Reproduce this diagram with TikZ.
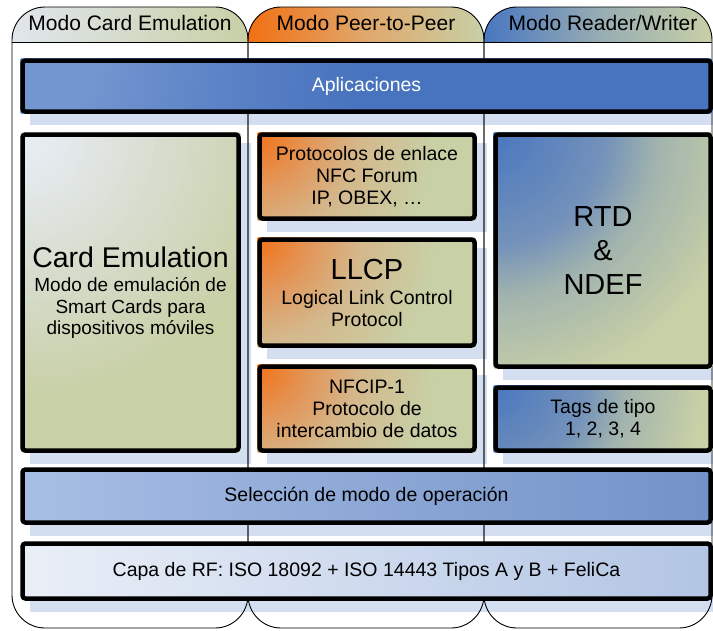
\documentclass[tikz,border=0pt]{standalone}
\usepackage{fontspec}
\setmainfont{Liberation Sans}

% palette
\definecolor{olive}{RGB}{200,208,166}
\definecolor{orangeA}{RGB}{242,112,20}
\definecolor{orangeB}{RGB}{226,152,92}
\definecolor{tanmid}{RGB}{212,184,140}
\definecolor{blueA}{RGB}{72,118,192}
\definecolor{blueB}{RGB}{116,146,186}
\definecolor{greymid}{RGB}{162,180,174}
\definecolor{paleA}{RGB}{234,238,246}
\definecolor{paleB}{RGB}{227,232,234}
\definecolor{palemid}{RGB}{216,222,208}
\definecolor{aplA}{RGB}{116,150,208}
\definecolor{aplB}{RGB}{72,115,190}
\colorlet{aplM}{aplA!45!aplB}
\definecolor{selA}{RGB}{168,190,228}
\definecolor{selB}{RGB}{114,146,200}
\definecolor{capaA}{RGB}{234,239,247}
\definecolor{capaB}{RGB}{178,197,228}
\definecolor{tabpaleA}{RGB}{224,230,236}
\definecolor{tabmidO}{RGB}{224,168,108}
\definecolor{tabmidB}{RGB}{150,172,180}
\definecolor{shadowblue}{RGB}{211,222,240}

% horizontal fades for the lane tabs
\pgfdeclarehorizontalshading{tabpale}{100bp}{color(0bp)=(tabpaleA); color(25bp)=(tabpaleA); color(75bp)=(olive); color(100bp)=(olive)}
\pgfdeclarehorizontalshading{taborange}{100bp}{color(0bp)=(orangeA); color(25bp)=(orangeA); color(50bp)=(tabmidO); color(75bp)=(olive); color(100bp)=(olive)}
\pgfdeclarehorizontalshading{tabblue}{100bp}{color(0bp)=(blueA); color(25bp)=(blueA); color(50bp)=(tabmidB); color(75bp)=(olive); color(100bp)=(olive)}

% one band of a stepped glow: centre, inner colour, outer colour, inner radius, outer radius
\newcommand\glowband[5]{%
  \foreach \k in {24,23,...,1}{%
    \pgfmathsetmacro\rr{#4+(#5-#4)*\k/24}%
    \pgfmathtruncatemacro\pp{100*\k/24}%
    \fill[#3!\pp!#2] #1 circle[radius=\rr pt];}}
% glow from the upper left corner of a box:
% upper left corner, lower right corner, four colours, three stop radii
\newcommand\boxglow[9]{%
  \begin{scope}
    \clip[rounded corners=3pt] #1 rectangle #2;
    \fill[#6] #1 rectangle #2;
    \glowband{#1}{#5}{#6}{#8}{#9}
    \glowband{#1}{#4}{#5}{#7}{#8}
    \glowband{#1}{#3}{#4}{0}{#7}
  \end{scope}}

\pgfdeclarelayer{lanebg}
\pgfdeclarelayer{shadowlayer}
\pgfdeclarelayer{laneline}
\pgfdeclarelayer{boxfill}
\pgfsetlayers{lanebg,shadowlayer,laneline,boxfill,main}

\begin{document}
\begin{tikzpicture}[x=1pt,y=-1pt,
  box/.style={draw=black, line width=4.5pt, rounded corners=3pt, inner sep=0pt, align=center,
              font=\fontsize{19.5}{22}\selectfont},
  lane/.style={draw=black, line width=0.9pt, rounded corners=33pt},
  laneline/.style={draw=black, line width=0.9pt},
  hdr/.style={font=\fontsize{21}{24}\selectfont, inner sep=0pt},
  shadowfill/.style={fill=shadowblue}
]
\useasboundingbox (0,0) rectangle (713,630);

% ---------- boxes ----------
\node[box, text=white, minimum width=688pt, minimum height=51pt] (apl) at (366.5,86) {Aplicaciones};

\node[box, minimum width=216pt, minimum height=316pt,
      font=\fontsize{19}{21.5}\selectfont] (ce) at (130.5,292.5)
  {{\fontsize{28.5}{30}\selectfont Card Emulation}\\[3pt]
   Modo de emulación de\\ Smart Cards para\\ dispositivos móviles};

\node[box, minimum width=215pt, minimum height=84pt] (prot) at (367,176.5)
  {Protocolos de enlace\\ NFC Forum\\ IP, OBEX, \dots};
\node[box, minimum width=215pt, minimum height=106pt] (llcp) at (367,292.5)
  {{\fontsize{29}{30}\selectfont LLCP}\\[3pt] Logical Link Control\\ Protocol};
\node[box, minimum width=215pt, minimum height=84pt] (nfcip) at (367,408.5)
  {NFCIP-1\\ Protocolo de\\ intercambio de datos};

\node[box, minimum width=215pt, minimum height=232pt,
      font=\fontsize{29}{34}\selectfont] (rtd) at (603,250.5) {RTD\\ \&\\ NDEF};
\node[box, minimum width=215pt, minimum height=63pt] (tags) at (603,419)
  {Tags de tipo\\ 1, 2, 3, 4};

\node[box, left color=selA, right color=selB, minimum width=688pt, minimum height=53pt] (sel) at (366.5,496)
  {Selección de modo de operación};
\node[box, left color=capaA, right color=capaB, minimum width=688pt, minimum height=55pt] (capa) at (366.5,571)
  {Capa de RF: ISO 18092 + ISO 14443 Tipos A y B + FeliCa};

% ---------- lane headers ----------
\node[hdr] (h1) at (130,23) {Modo Card Emulation};
\node[hdr] (h2) at (366,23) {Modo Peer-to-Peer};
\node[hdr] (h3) at (603,23) {Modo Reader/Writer};

% ---------- box fills ----------
\begin{pgfonlayer}{boxfill}
  \boxglow{(20.25,58.25)}{(712.75,113.75)}{aplA}{aplA}{aplM}{aplB}{75}{204}{340}
  \boxglow{(20.25,132.25)}{(240.75,452.75)}{paleA}{paleB}{palemid}{olive}{54}{135}{270}
  \boxglow{(257.25,132.25)}{(476.75,220.75)}{orangeA}{orangeB}{tanmid}{olive}{56}{104}{180}
  \boxglow{(257.25,237.25)}{(476.75,347.75)}{orangeA}{orangeB}{tanmid}{olive}{56}{104}{180}
  \boxglow{(257.25,364.25)}{(476.75,452.75)}{orangeA}{orangeB}{tanmid}{olive}{56}{104}{180}
  \boxglow{(493.25,132.25)}{(712.75,368.75)}{blueA}{blueB}{greymid}{olive}{114}{166}{260}
  \boxglow{(493.25,385.25)}{(712.75,452.75)}{blueA}{blueB}{greymid}{olive}{92}{134}{210}
\end{pgfonlayer}

% ---------- drop shadows ----------
\begin{pgfonlayer}{shadowlayer}
  \foreach \b in {apl,ce,prot,llcp,nfcip,rtd,tags,sel,capa}
    \fill[shadowfill] ([shift={(10,11)}]\b.north west) rectangle ([shift={(10,11)}]\b.south east);
\end{pgfonlayer}

% ---------- lanes ----------
\begin{pgfonlayer}{lanebg}
  \fill[white] (0,0) rectangle (713,630);
  \begin{scope}
    \clip[rounded corners=33pt] (12,7) rectangle (248,628);
    \shade[shading=tabpale] (12,7) rectangle (248,42);
  \end{scope}
  \begin{scope}
    \clip[rounded corners=33pt] (248,7) rectangle (484,628);
    \shade[shading=taborange] (248,7) rectangle (484,42);
  \end{scope}
  \begin{scope}
    \clip[rounded corners=33pt] (484,7) rectangle (712,628);
    \shade[shading=tabblue] (484,7) rectangle (712,42);
  \end{scope}
\end{pgfonlayer}

\begin{pgfonlayer}{laneline}
  \draw[lane] (12,7) rectangle (248,628);
  \draw[lane] (248,7) rectangle (484,628);
  \draw[lane] (484,7) rectangle (712,628);
  \draw[laneline] (12,42) -- (712,42);
\end{pgfonlayer}
\end{tikzpicture}
\end{document}
